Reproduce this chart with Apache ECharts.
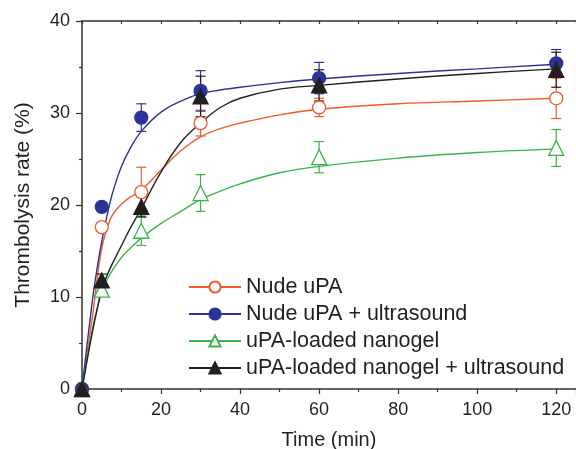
<!DOCTYPE html>
<html>
<head>
<meta charset="utf-8">
<script src="https://cdn.jsdelivr.net/npm/echarts@6/dist/echarts.min.js"></script>
<style>
  html, body { margin: 0; padding: 0; background: #fff; }
  #chart { width: 576px; height: 449px; }
</style>
</head>
<body>
<div id="chart"></div>
<script>
// measured points
const times = [0, 5, 15, 30, 60, 120];
const nudeVals = [0, 17.6, 21.4, 28.9, 30.6, 31.6];
const nudeErr = [0, 0.4, 2.7, 1.4, 1.0, 2.2];
const nudeUsVals = [0, 19.8, 29.5, 32.4, 33.8, 35.4];
const nudeUsErr = [0, 0.3, 1.5, 2.2, 1.7, 1.5];
const gelVals = [0, 10.8, 17.2, 21.3, 25.2, 26.2];
const gelErr = [0, 0.7, 1.6, 2.0, 1.7, 2.0];
const gelUsVals = [0, 11.8, 19.8, 31.8, 33.0, 34.7];
const gelUsErr = [0, 0.7, 1.1, 2.2, 1.7, 1.9];

// fitted curves
const curveT = [0, 1, 2, 3, 4, 5, 6, 7, 8, 10, 12, 15, 20, 25, 30, 35, 40, 50, 60, 80, 100, 120];
const nudeFit = [0, 3, 6, 9, 12.5, 15.3, 17.0, 18.3, 19.1, 20.1, 20.8, 21.6, 23.8, 25.9, 27.4, 28.3, 28.9, 29.8, 30.4, 31.0, 31.3, 31.6];
const nudeUsFit = [0, 3.8, 7.4, 10.8, 13.6, 16.0, 18.2, 20.1, 21.7, 24.2, 26.0, 28.0, 30.1, 31.3, 32.1, 32.5, 32.8, 33.3, 33.7, 34.3, 34.8, 35.3];
const gelFit = [0, 2.6, 5.0, 7.2, 9.0, 10.6, 11.6, 12.4, 13.1, 14.3, 15.2, 16.4, 18.0, 19.3, 20.6, 21.5, 22.3, 23.5, 24.2, 25.1, 25.7, 26.1];
const gelUsFit = [0, 2.4, 4.8, 7.0, 9.0, 10.9, 12.0, 13.0, 13.9, 15.6, 17.3, 19.6, 23.6, 26.8, 28.9, 30.6, 31.6, 32.6, 33.0, 33.7, 34.3, 34.8];

const names = ['Nude uPA', 'Nude uPA + ultrasound', 'uPA-loaded nanogel', 'uPA-loaded nanogel + ultrasound'];
const colors = ['#f15a29', '#2b3494', '#3ab54a', '#231f20'];
const symbols = ['circle', 'circle', 'triangle', 'triangle'];
const hollow = [true, false, true, false];
const vals = [nudeVals, nudeUsVals, gelVals, gelUsVals];
const errs = [nudeErr, nudeUsErr, gelErr, gelUsErr];
const fits = [nudeFit, nudeUsFit, gelFit, gelUsFit];

const axisColor = '#333';
const font = 'Liberation Sans, Arial, sans-serif';

const chart = echarts.init(document.getElementById('chart'));

function pairs(xs, ys) {
  return xs.map((x, i) => [x, ys[i]]);
}

const series = [];
names.forEach((name, k) => {
  // curve (also the legend entry)
  series.push({
    name: name,
    type: 'line',
    data: pairs(curveT, fits[k]),
    smooth: 0.4,
    showSymbol: false,
    symbol: symbols[k],
    symbolSize: 12,
    lineStyle: { color: colors[k], width: 1.4 },
    itemStyle: {
      color: hollow[k] ? '#fff' : colors[k],
      borderColor: colors[k],
      borderWidth: 1.3
    },
    emphasis: { disabled: true },
    z: 2
  });
  // error bars
  series.push({
    type: 'custom',
    data: times.map((t, i) => [t, vals[k][i] - errs[k][i], vals[k][i] + errs[k][i]]),
    renderItem: function (params, api) {
      const lo = api.coord([api.value(0), api.value(1)]);
      const hi = api.coord([api.value(0), api.value(2)]);
      const w = 5;
      const st = { stroke: colors[k], lineWidth: 1.2 };
      return {
        type: 'group',
        children: [
          { type: 'line', shape: { x1: lo[0], y1: lo[1], x2: hi[0], y2: hi[1] }, style: st },
          { type: 'line', shape: { x1: lo[0] - w, y1: lo[1], x2: lo[0] + w, y2: lo[1] }, style: st },
          { type: 'line', shape: { x1: hi[0] - w, y1: hi[1], x2: hi[0] + w, y2: hi[1] }, style: st }
        ]
      };
    },
    z: 3,
    silent: true
  });
  // markers
  series.push({
    type: 'scatter',
    data: pairs(times, vals[k]),
    symbol: symbols[k],
    symbolSize: symbols[k] === 'triangle' ? 15 : 13,
    itemStyle: {
      color: hollow[k] ? '#fff' : colors[k],
      borderColor: colors[k],
      borderWidth: 1.3,
      opacity: 1
    },
    z: 4,
    silent: true
  });
});

chart.setOption({
  animation: false,
  grid: { left: 82, top: 21, right: 0, bottom: 60, outerBoundsMode: 'none' },
  legend: {
    data: names,
    orient: 'vertical',
    left: 183,
    top: 271,
    itemWidth: 52,
    itemHeight: 14,
    itemGap: 5,
    textStyle: { fontFamily: font, fontSize: 21.5, color: '#231f20', lineHeight: 22 },
    selectedMode: false
  },
  xAxis: [
    {
      type: 'value',
      min: 0,
      max: 125,
      interval: 20,
      name: 'Time (min)',
      nameLocation: 'middle',
      nameGap: 41,
      nameTextStyle: { fontFamily: font, fontSize: 20, color: '#231f20' },
      axisLine: { lineStyle: { color: axisColor, width: 1.5 } },
      axisTick: { length: 5, lineStyle: { color: axisColor, width: 1.2 } },
      minorTick: { show: true, splitNumber: 2, length: 3, lineStyle: { color: axisColor, width: 1.2 } },
      axisLabel: {
        fontFamily: font, fontSize: 18, color: '#231f20', margin: 12,
        formatter: v => (v <= 120 ? String(v) : '')
      },
      splitLine: { show: false }
    },
    {
      type: 'value',
      position: 'top',
      min: 0,
      max: 125,
      interval: 10,
      axisLine: { onZero: false, lineStyle: { color: axisColor, width: 1.5 } },
      axisTick: { inside: true, length: 3, lineStyle: { color: axisColor, width: 1.2 } },
      axisLabel: { show: false },
      splitLine: { show: false }
    }
  ],
  yAxis: {
    type: 'value',
    min: 0,
    max: 40,
    interval: 10,
    name: 'Thrombolysis rate (%)',
    nameLocation: 'middle',
    nameGap: 48,
    nameTextStyle: { fontFamily: font, fontSize: 21, color: '#231f20' },
    axisLine: { show: true, lineStyle: { color: axisColor, width: 1.5 } },
    axisTick: { show: true, length: 6, lineStyle: { color: axisColor, width: 1.2 } },
    minorTick: { show: true, splitNumber: 2, length: 3, lineStyle: { color: axisColor, width: 1.2 } },
    axisLabel: { fontFamily: font, fontSize: 18, color: '#231f20', margin: 12 },
    splitLine: { show: false }
  },
  series: series
});
</script>
</body>
</html>
